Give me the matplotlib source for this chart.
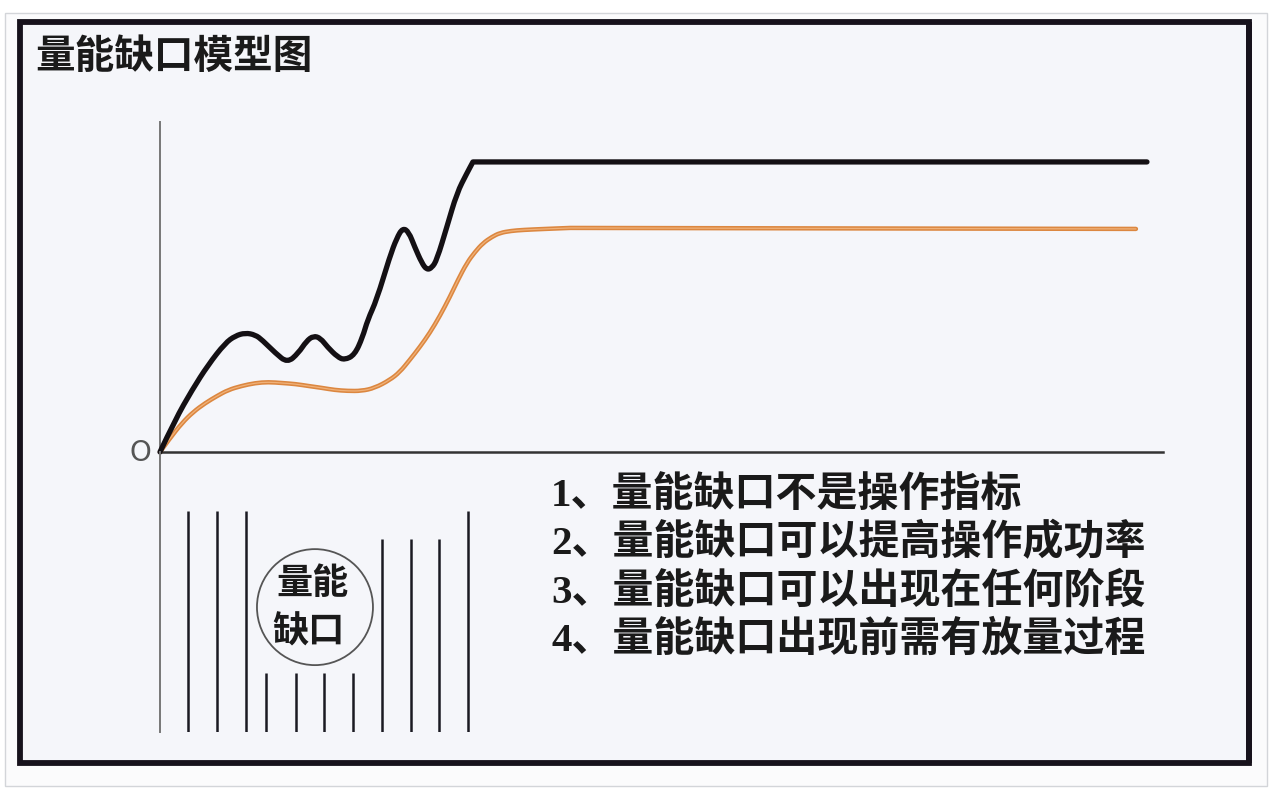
import matplotlib.pyplot as plt
import numpy as np
from matplotlib.patches import Rectangle, Ellipse, PathPatch
from matplotlib.path import Path

plt.rcParams['font.family'] = ['Noto Sans CJK SC', 'DejaVu Sans']

# price line (black) and average cost line (orange)
black_x = [0, 1.5, 3.2, 4.8, 6.5, 7.5, 8.5, 9.5, 10.2, 11.5, 12.7, 13.8, 14.6, 15.3,
           16.0, 16.7, 17.7, 18.4, 19.4, 20.2, 20.7, 21.6, 22.9, 23.6, 24.2, 24.8,
           25.4, 26.1, 26.6, 27.1, 27.6, 28.6, 29.6, 30.6, 31.2, 98.4]
black_y = [0, 9.7, 18.8, 26.4, 33.0, 35.2, 36.1, 35.5, 33.9, 30.0, 27.0, 30.0, 33.6, 35.2,
           34.5, 31.8, 28.8, 27.9, 29.4, 34.8, 40.0, 46.1, 59.1, 64.8, 67.9, 66.7,
           62.1, 57.3, 55.2, 55.8, 58.2, 68.2, 78.5, 84.5, 87.9, 87.9]

orange_x = [0, 1.0, 2.2, 3.3, 4.5, 5.7, 6.8, 8.1, 9.5, 10.8, 12.2, 13.5, 14.8, 16.2,
            17.4, 18.7, 20.1, 21.4, 22.9, 23.9, 24.9, 25.9, 26.9, 27.9, 28.9, 29.7,
            30.6, 31.4, 32.2, 33.1, 33.9, 35.0, 36.2, 38.4, 40.9, 97.3]
orange_y = [0, 4.2, 8.8, 12.1, 14.8, 17.0, 18.8, 20.0, 20.9, 21.2, 20.9, 20.6, 20.0, 19.4,
            18.8, 18.5, 18.5, 19.4, 21.8, 24.2, 27.9, 31.8, 36.1, 41.2, 47.0, 52.1,
            57.3, 60.6, 63.3, 65.2, 66.4, 67.0, 67.3, 67.6, 67.9, 67.6]

# volume bars under the axis
vol_x = [2.8, 5.7, 8.6, 10.6, 13.6, 16.35, 19.2, 22.1, 25.0, 27.8, 30.7]
vol_h = [79, 79, 79, 21, 21, 21, 21, 69, 69, 69, 79]

title = '量能缺口模型图'
gap_label = ['量能', '缺口']
notes = ['1、量能缺口不是操作指标',
         '2、量能缺口可以提高操作成功率',
         '3、量能缺口可以出现在任何阶段',
         '4、量能缺口出现前需有放量过程']

W, H = 1280, 806
fig = plt.figure(figsize=(W / 100, H / 100), dpi=100, facecolor='white')


def fx(px):
    return px / W


def fy(py):
    return 1 - py / H


def smooth_path(xs, ys):
    # quadratic bezier through mid points, read points used as control points,
    # the last (flat) stretch stays straight
    p = np.column_stack([xs, ys])
    verts = [p[0]]
    codes = [Path.MOVETO]
    for i in range(1, len(p) - 2):
        verts += [p[i], (p[i] + p[i + 1]) / 2]
        codes += [Path.CURVE3, Path.CURVE3]
    verts += [p[-2], p[-1]]
    codes += [Path.LINETO, Path.LINETO]
    return Path(verts, codes)


# card outline + black frame (behind the axes)
fig.patches.append(Rectangle((fx(5), fy(786)), fx(1267) - fx(5), fy(13) - fy(786),
                             transform=fig.transFigure, facecolor='#fbfbfc',
                             edgecolor='#d3d5d9', lw=1, zorder=-3))
fig.patches.append(Rectangle((fx(20), fy(763)), fx(1249) - fx(20), fy(22) - fy(763),
                             transform=fig.transFigure, facecolor='#f5f6fa',
                             edgecolor='#17121c', lw=4.2, zorder=-2))
fig.patches.append(Rectangle((fx(1246), fy(763)), fx(6), fy(22) - fy(763),
                             transform=fig.transFigure, facecolor='#17121c',
                             edgecolor='none', zorder=-1))

# price panel
ax = fig.add_axes([fx(160), fy(452), fx(1163) - fx(160), fy(122) - fy(452)])
ax.set_xlim(0, 100)
ax.set_ylim(0, 100)
ax.patch.set_alpha(0)
for s in ['top', 'right']:
    ax.spines[s].set_visible(False)
ax.spines['left'].set_color('#777777')
ax.spines['left'].set_linewidth(1.4)
ax.spines['bottom'].set_color('#333333')
ax.spines['bottom'].set_linewidth(1.8)
ax.set_xticks([])
ax.set_yticks([])

ax.add_patch(PathPatch(smooth_path(orange_x, orange_y), facecolor='none',
                       edgecolor='#dc8740', lw=3.2, capstyle='round',
                       joinstyle='round', clip_on=False, zorder=3))
ax.add_patch(PathPatch(smooth_path(orange_x, orange_y), facecolor='none',
                       edgecolor='#f0b27a', lw=0.9, capstyle='round',
                       joinstyle='round', clip_on=False, zorder=3))
ax.add_patch(PathPatch(smooth_path(black_x, black_y), facecolor='none',
                       edgecolor='#141014', lw=3.8, capstyle='round',
                       joinstyle='round', clip_on=False, zorder=4))

# volume panel
vax = fig.add_axes([fx(160), fy(732), fx(1163) - fx(160), fy(452) - fy(732)])
vax.set_xlim(0, 100)
vax.set_ylim(0, 100)
vax.patch.set_alpha(0)
for s in ['top', 'right', 'bottom']:
    vax.spines[s].set_visible(False)
vax.spines['left'].set_color('#777777')
vax.spines['left'].set_linewidth(1.4)
vax.set_xticks([])
vax.set_yticks([])
vax.vlines(vol_x, 0, vol_h, color='#1a1a22', lw=1.8)

vax.add_patch(Ellipse((15.45, 44.6), 116 / 10.03, 116 / 2.8, facecolor='none',
                      edgecolor='#555555', lw=1.3))
vax.text(15.2, 53.2, gap_label[0], ha='center', va='center', fontsize=26,
         fontweight='bold', color='#1a1a1a')
vax.text(14.8, 35.7, gap_label[1], ha='center', va='center', fontsize=26,
         fontweight='bold', color='#1a1a1a')

# texts
fig.text(fx(35), fy(56), title, ha='left', va='center', fontsize=28.5,
         fontweight='bold', color='#1a1a1a')
fig.text(fx(140), fy(453), 'O', ha='center', va='center', fontsize=20,
         family='DejaVu Sans', color='#555555')
for i, line in enumerate(notes):
    fig.text(fx(551), fy(495 + i * 48.5), line, ha='left', va='center', fontsize=29.5,
             fontweight='bold', color='#1a1a1a',
             family=['Liberation Serif', 'Noto Sans CJK SC'])

fig.savefig('out.png', dpi=100, facecolor='white')
